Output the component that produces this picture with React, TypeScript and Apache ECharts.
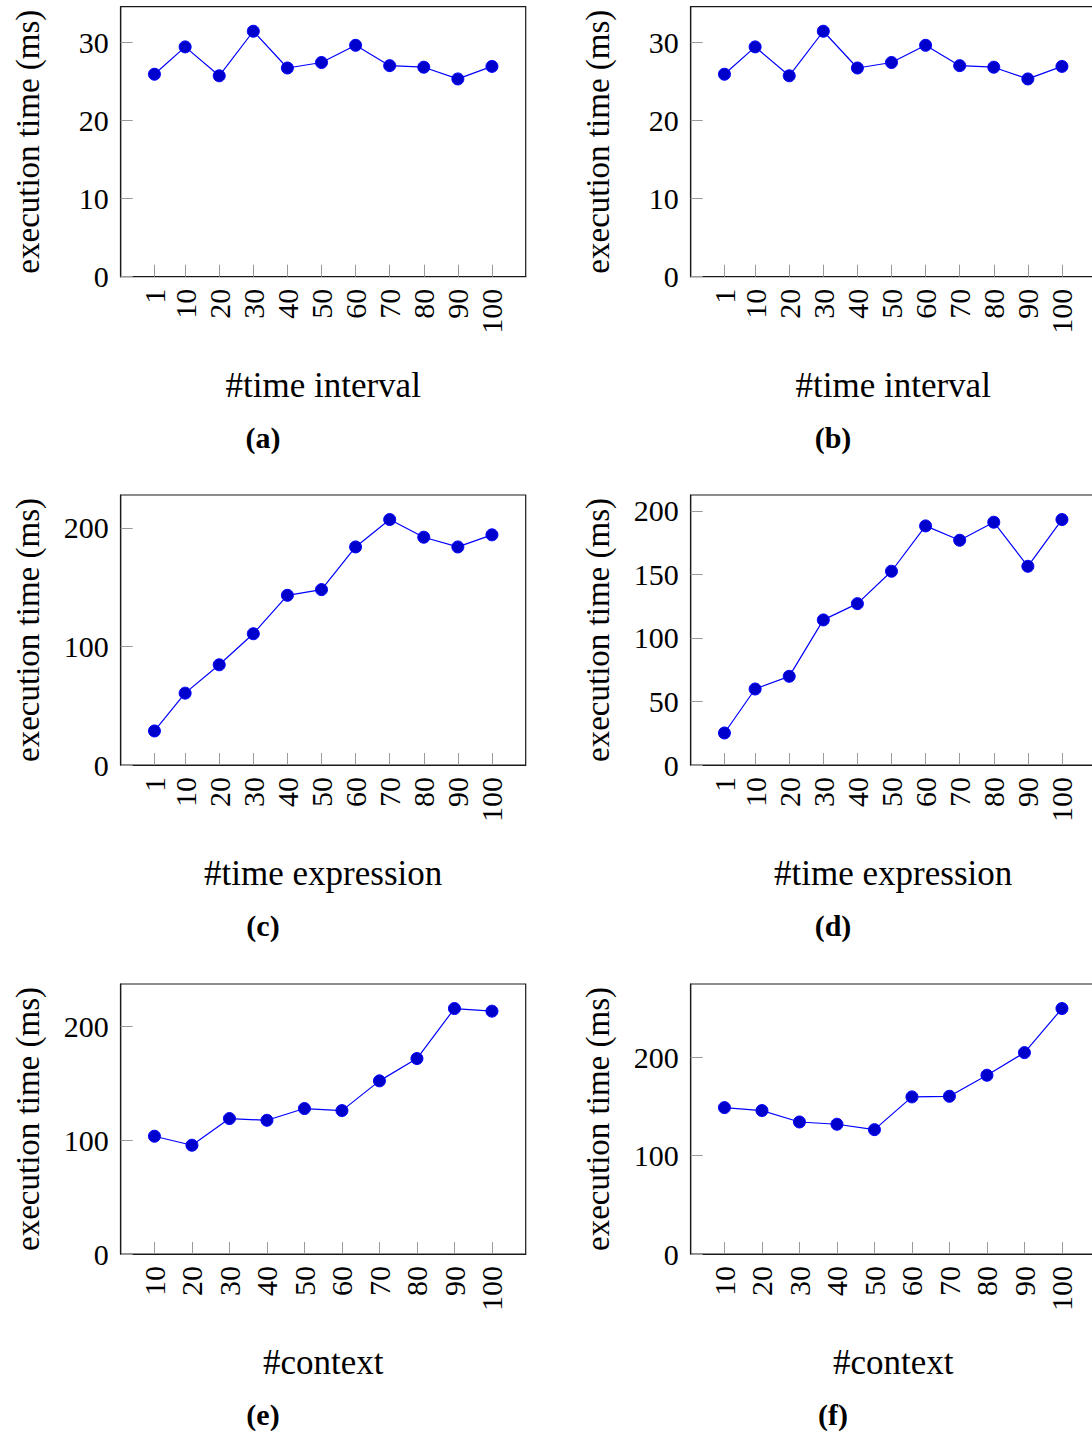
import { useEffect, useRef } from "react";
import * as echarts from "echarts";

// ---- data ----
const xTimeInterval = [1, 10, 20, 30, 40, 50, 60, 70, 80, 90, 100];
const xTimeExpression = [1, 10, 20, 30, 40, 50, 60, 70, 80, 90, 100];
const xContext = [10, 20, 30, 40, 50, 60, 70, 80, 90, 100];

const timeIntervalA = [25.9, 29.4, 25.7, 31.4, 26.7, 27.4, 29.6, 27.0, 26.8, 25.3, 26.9];
const timeIntervalB = [25.9, 29.4, 25.7, 31.4, 26.7, 27.4, 29.6, 27.0, 26.8, 25.3, 26.9];
const timeExpressionC = [28.7, 60.6, 84.5, 110.7, 143.1, 147.9, 183.9, 207.0, 192.1, 183.9, 194.1];
const timeExpressionD = [25.2, 59.8, 69.8, 114.2, 127.0, 152.5, 188.2, 176.9, 191.1, 156.4, 193.2];
const contextE = [103.4, 95.5, 118.9, 117.4, 127.7, 125.9, 152.0, 171.6, 215.5, 213.2];
const contextF = [148.8, 145.8, 134.2, 131.9, 126.4, 159.7, 160.3, 181.7, 204.7, 249.5];

const yTicksA = [0, 10, 20, 30];
const yTicksC = [0, 100, 200];
const yTicksD = [0, 50, 100, 150, 200];
const yTicksE = [0, 100, 200];
const yTicksF = [0, 100, 200];

const yName = "execution time (ms)";
const xNameInterval = "#time interval";
const xNameExpression = "#time expression";
const xNameContext = "#context";
const captions = ["(a)", "(b)", "(c)", "(d)", "(e)", "(f)"];

// ---- layout ----
const colLeft = [120.7, 690.7];
const rowTop = [6.7, 495, 984];
const plotW = 405;
const plotH = 270;
const FONT = "Liberation Serif";

export default function App() {
  const ref = useRef<HTMLDivElement>(null);

  useEffect(() => {
    document.body.style.margin = "0";
    if (!ref.current) return;
    const chart = echarts.init(ref.current, undefined, { renderer: "svg" });

    const panels = [
      { xs: xTimeInterval, ys: timeIntervalA, yTicks: yTicksA, xName: xNameInterval, col: 0, row: 0 },
      { xs: xTimeInterval, ys: timeIntervalB, yTicks: yTicksA, xName: xNameInterval, col: 1, row: 0 },
      { xs: xTimeExpression, ys: timeExpressionC, yTicks: yTicksC, xName: xNameExpression, col: 0, row: 1 },
      { xs: xTimeExpression, ys: timeExpressionD, yTicks: yTicksD, xName: xNameExpression, col: 1, row: 1 },
      { xs: xContext, ys: contextE, yTicks: yTicksE, xName: xNameContext, col: 0, row: 2 },
      { xs: xContext, ys: contextF, yTicks: yTicksF, xName: xNameContext, col: 1, row: 2 },
    ];

    const grids: any[] = [];
    const xAxes: any[] = [];
    const yAxes: any[] = [];
    const series: any[] = [];
    const graphics: any[] = [];

    panels.forEach((p, i) => {
      const left = colLeft[p.col];
      const top = rowTop[p.row];
      const x0 = p.xs[0];
      const x1 = p.xs[p.xs.length - 1];
      const xr = x1 - x0;
      const yMax = Math.max(...p.ys) * 1.1;

      grids.push({
        left,
        top,
        width: plotW,
        height: plotH,
        show: true,
        borderColor: "#1a1a1a",
        borderWidth: 1.2,
        backgroundColor: "transparent",
        containLabel: false,
        outerBoundsMode: "none",
      });

      xAxes.push({
        type: "value",
        gridIndex: i,
        min: x0 - 0.1 * xr,
        max: x1 + 0.1 * xr,
        axisLine: { show: true, onZero: false, lineStyle: { color: "#1a1a1a", width: 1.2 } },
        axisTick: {
          show: true,
          inside: true,
          length: 12,
          customValues: p.xs,
          lineStyle: { color: "#9a9a9a", width: 1 },
        },
        axisLabel: {
          show: true,
          rotate: 90,
          margin: 12,
          customValues: p.xs,
          color: "#000",
          fontFamily: FONT,
          fontSize: 30,
          hideOverlap: false,
        },
        splitLine: { show: false },
      });

      yAxes.push({
        type: "value",
        gridIndex: i,
        min: 0,
        max: yMax,
        axisLine: { show: true, onZero: false, lineStyle: { color: "#1a1a1a", width: 1.2 } },
        axisTick: {
          show: true,
          inside: true,
          length: 12,
          customValues: p.yTicks,
          lineStyle: { color: "#9a9a9a", width: 1 },
        },
        axisLabel: {
          show: true,
          margin: 12,
          customValues: p.yTicks,
          color: "#000",
          fontFamily: FONT,
          fontSize: 30,
        },
        splitLine: { show: false },
      });

      series.push({
        type: "line",
        xAxisIndex: i,
        yAxisIndex: i,
        data: p.xs.map((x, k) => [x, p.ys[k]]),
        symbol: "circle",
        symbolSize: 12,
        lineStyle: { color: "#0000ff", width: 1.2 },
        itemStyle: { color: "#0000cc", borderColor: "#0000ff", borderWidth: 1 },
        clip: false,
      });

      graphics.push({
        type: "text",
        x: left - 93.1,
        y: top + plotH / 2,
        rotation: Math.PI / 2,
        style: {
          text: yName,
          fill: "#000",
          font: `33px ${FONT}`,
          textAlign: "center",
          textVerticalAlign: "middle",
        },
      });
      graphics.push({
        type: "text",
        x: left + plotW / 2,
        y: top + 378.3,
        style: {
          text: p.xName,
          fill: "#000",
          font: `35px ${FONT}`,
          textAlign: "center",
          textVerticalAlign: "middle",
        },
      });
      graphics.push({
        type: "text",
        x: left + 142.3,
        y: top + 430.3,
        style: {
          text: captions[i],
          fill: "#000",
          font: `bold 30px ${FONT}`,
          textAlign: "center",
          textVerticalAlign: "middle",
        },
      });
    });

    chart.setOption({
      animation: false,
      backgroundColor: "#fff",
      grid: grids,
      xAxis: xAxes,
      yAxis: yAxes,
      series,
      graphic: graphics,
    });

    return () => chart.dispose();
  }, []);

  return <div ref={ref} style={{ width: 1092, height: 1431 }} />;
}
